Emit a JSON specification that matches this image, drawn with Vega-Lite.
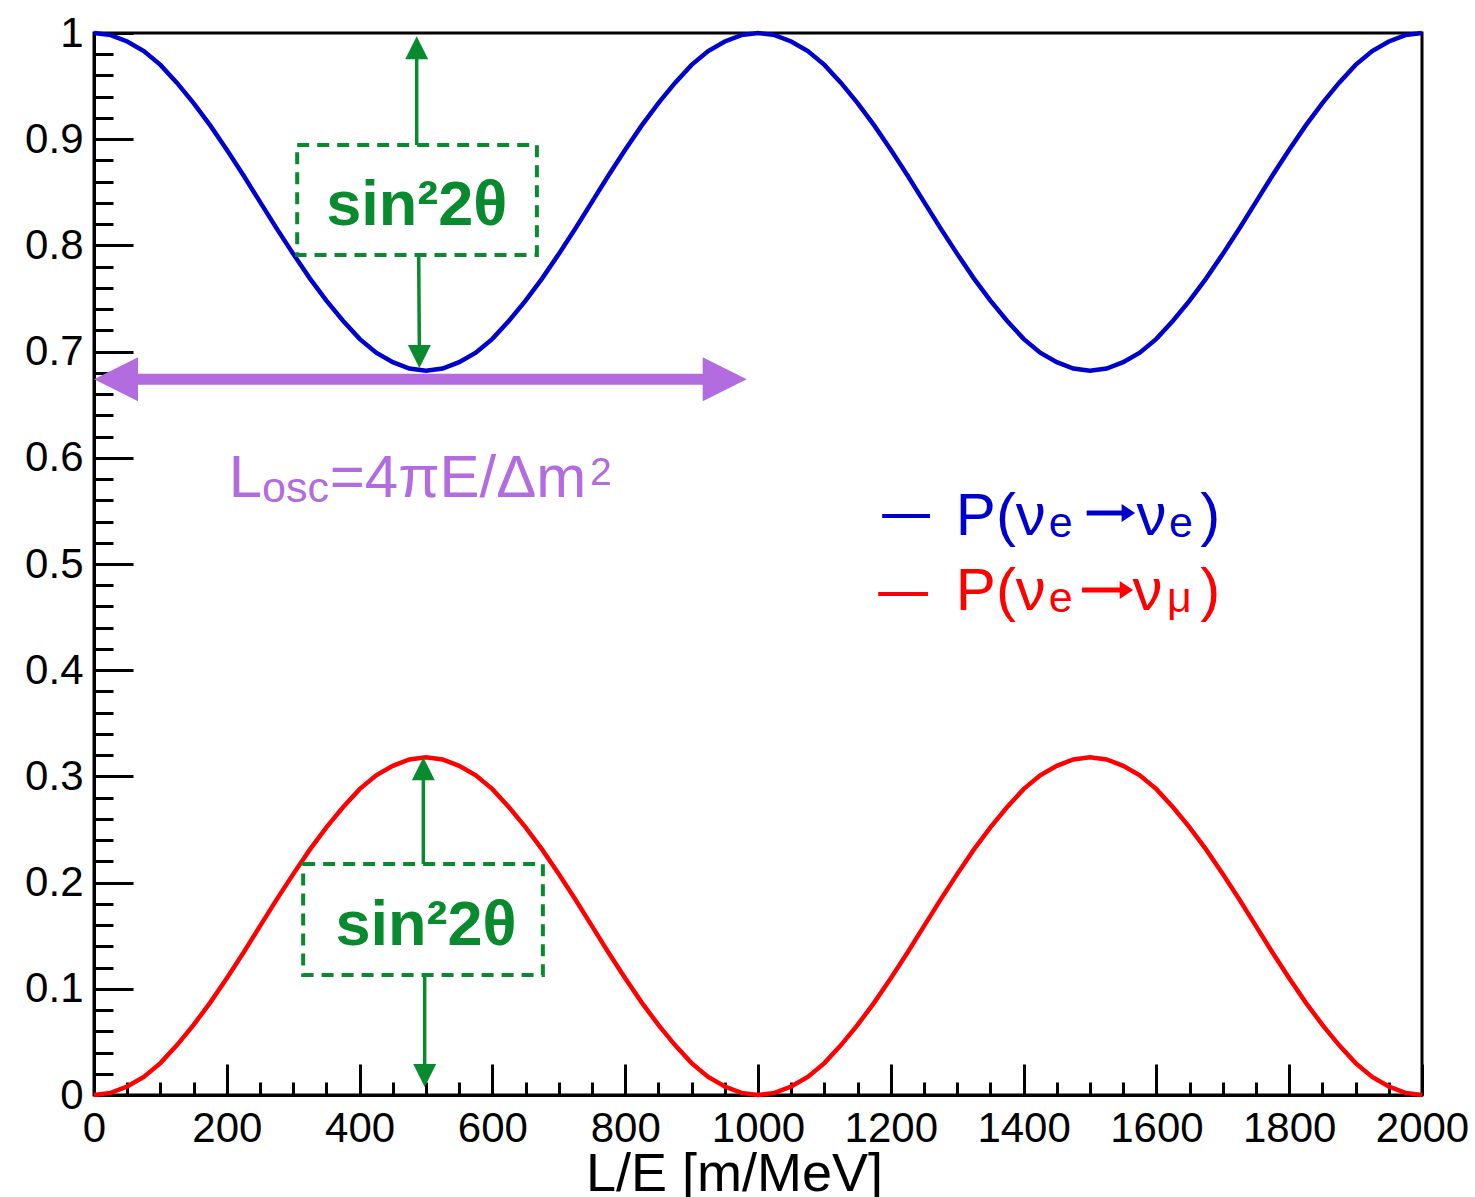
{
  "$schema": "https://vega.github.io/schema/vega-lite/v6.json",
  "width": 1328,
  "height": 1062,
  "autosize": {"type": "none"},
  "padding": {"left": 94, "top": 33, "right": 53, "bottom": 102},
  "background": "white",
  "config": {
    "font": "Liberation Sans",
    "view": {"stroke": "black", "strokeWidth": 3},
    "axis": {"grid": false, "domainColor": "black", "domainWidth": 3, "tickColor": "black", "tickWidth": 3, "labelColor": "black", "labelFont": "Liberation Sans", "titleFont": "Liberation Sans", "titleColor": "black", "labelFlush": false, "labelOverlap": false}
  },
  "datasets": {
    "curves": [
      {"x":0,"s":"emu","p":0},{"x":25,"s":"emu","p":0.002},{"x":50,"s":"emu","p":0.008},{"x":75,"s":"emu","p":0.017},{"x":100,"s":"emu","p":0.030},{"x":125,"s":"emu","p":0.047},{"x":150,"s":"emu","p":0.066},{"x":175,"s":"emu","p":0.087},{"x":200,"s":"emu","p":0.110},{"x":225,"s":"emu","p":0.134},{"x":250,"s":"emu","p":0.159},{"x":275,"s":"emu","p":0.184},{"x":300,"s":"emu","p":0.208},{"x":325,"s":"emu","p":0.231},{"x":350,"s":"emu","p":0.252},{"x":375,"s":"emu","p":0.271},{"x":400,"s":"emu","p":0.288},{"x":425,"s":"emu","p":0.301},{"x":450,"s":"emu","p":0.310},{"x":475,"s":"emu","p":0.316},{"x":500,"s":"emu","p":0.318},
      {"x":525,"s":"emu","p":0.316},{"x":550,"s":"emu","p":0.310},{"x":575,"s":"emu","p":0.301},{"x":600,"s":"emu","p":0.288},{"x":625,"s":"emu","p":0.271},{"x":650,"s":"emu","p":0.252},{"x":675,"s":"emu","p":0.231},{"x":700,"s":"emu","p":0.208},{"x":725,"s":"emu","p":0.184},{"x":750,"s":"emu","p":0.159},{"x":775,"s":"emu","p":0.134},{"x":800,"s":"emu","p":0.110},{"x":825,"s":"emu","p":0.087},{"x":850,"s":"emu","p":0.066},{"x":875,"s":"emu","p":0.047},{"x":900,"s":"emu","p":0.030},{"x":925,"s":"emu","p":0.017},{"x":950,"s":"emu","p":0.008},{"x":975,"s":"emu","p":0.002},{"x":1000,"s":"emu","p":0},
      {"x":1025,"s":"emu","p":0.002},{"x":1050,"s":"emu","p":0.008},{"x":1075,"s":"emu","p":0.017},{"x":1100,"s":"emu","p":0.030},{"x":1125,"s":"emu","p":0.047},{"x":1150,"s":"emu","p":0.066},{"x":1175,"s":"emu","p":0.087},{"x":1200,"s":"emu","p":0.110},{"x":1225,"s":"emu","p":0.134},{"x":1250,"s":"emu","p":0.159},{"x":1275,"s":"emu","p":0.184},{"x":1300,"s":"emu","p":0.208},{"x":1325,"s":"emu","p":0.231},{"x":1350,"s":"emu","p":0.252},{"x":1375,"s":"emu","p":0.271},{"x":1400,"s":"emu","p":0.288},{"x":1425,"s":"emu","p":0.301},{"x":1450,"s":"emu","p":0.310},{"x":1475,"s":"emu","p":0.316},{"x":1500,"s":"emu","p":0.318},
      {"x":1525,"s":"emu","p":0.316},{"x":1550,"s":"emu","p":0.310},{"x":1575,"s":"emu","p":0.301},{"x":1600,"s":"emu","p":0.288},{"x":1625,"s":"emu","p":0.271},{"x":1650,"s":"emu","p":0.252},{"x":1675,"s":"emu","p":0.231},{"x":1700,"s":"emu","p":0.208},{"x":1725,"s":"emu","p":0.184},{"x":1750,"s":"emu","p":0.159},{"x":1775,"s":"emu","p":0.134},{"x":1800,"s":"emu","p":0.110},{"x":1825,"s":"emu","p":0.087},{"x":1850,"s":"emu","p":0.066},{"x":1875,"s":"emu","p":0.047},{"x":1900,"s":"emu","p":0.030},{"x":1925,"s":"emu","p":0.017},{"x":1950,"s":"emu","p":0.008},{"x":1975,"s":"emu","p":0.002},{"x":2000,"s":"emu","p":0},
      {"x":0,"s":"ee","p":1},{"x":25,"s":"ee","p":0.998},{"x":50,"s":"ee","p":0.992},{"x":75,"s":"ee","p":0.983},{"x":100,"s":"ee","p":0.970},{"x":125,"s":"ee","p":0.953},{"x":150,"s":"ee","p":0.934},{"x":175,"s":"ee","p":0.913},{"x":200,"s":"ee","p":0.890},{"x":225,"s":"ee","p":0.866},{"x":250,"s":"ee","p":0.841},{"x":275,"s":"ee","p":0.816},{"x":300,"s":"ee","p":0.792},{"x":325,"s":"ee","p":0.769},{"x":350,"s":"ee","p":0.748},{"x":375,"s":"ee","p":0.729},{"x":400,"s":"ee","p":0.712},{"x":425,"s":"ee","p":0.699},{"x":450,"s":"ee","p":0.690},{"x":475,"s":"ee","p":0.684},{"x":500,"s":"ee","p":0.682},
      {"x":525,"s":"ee","p":0.684},{"x":550,"s":"ee","p":0.690},{"x":575,"s":"ee","p":0.699},{"x":600,"s":"ee","p":0.712},{"x":625,"s":"ee","p":0.729},{"x":650,"s":"ee","p":0.748},{"x":675,"s":"ee","p":0.769},{"x":700,"s":"ee","p":0.792},{"x":725,"s":"ee","p":0.816},{"x":750,"s":"ee","p":0.841},{"x":775,"s":"ee","p":0.866},{"x":800,"s":"ee","p":0.890},{"x":825,"s":"ee","p":0.913},{"x":850,"s":"ee","p":0.934},{"x":875,"s":"ee","p":0.953},{"x":900,"s":"ee","p":0.970},{"x":925,"s":"ee","p":0.983},{"x":950,"s":"ee","p":0.992},{"x":975,"s":"ee","p":0.998},{"x":1000,"s":"ee","p":1},
      {"x":1025,"s":"ee","p":0.998},{"x":1050,"s":"ee","p":0.992},{"x":1075,"s":"ee","p":0.983},{"x":1100,"s":"ee","p":0.970},{"x":1125,"s":"ee","p":0.953},{"x":1150,"s":"ee","p":0.934},{"x":1175,"s":"ee","p":0.913},{"x":1200,"s":"ee","p":0.890},{"x":1225,"s":"ee","p":0.866},{"x":1250,"s":"ee","p":0.841},{"x":1275,"s":"ee","p":0.816},{"x":1300,"s":"ee","p":0.792},{"x":1325,"s":"ee","p":0.769},{"x":1350,"s":"ee","p":0.748},{"x":1375,"s":"ee","p":0.729},{"x":1400,"s":"ee","p":0.712},{"x":1425,"s":"ee","p":0.699},{"x":1450,"s":"ee","p":0.690},{"x":1475,"s":"ee","p":0.684},{"x":1500,"s":"ee","p":0.682},
      {"x":1525,"s":"ee","p":0.684},{"x":1550,"s":"ee","p":0.690},{"x":1575,"s":"ee","p":0.699},{"x":1600,"s":"ee","p":0.712},{"x":1625,"s":"ee","p":0.729},{"x":1650,"s":"ee","p":0.748},{"x":1675,"s":"ee","p":0.769},{"x":1700,"s":"ee","p":0.792},{"x":1725,"s":"ee","p":0.816},{"x":1750,"s":"ee","p":0.841},{"x":1775,"s":"ee","p":0.866},{"x":1800,"s":"ee","p":0.890},{"x":1825,"s":"ee","p":0.913},{"x":1850,"s":"ee","p":0.934},{"x":1875,"s":"ee","p":0.953},{"x":1900,"s":"ee","p":0.970},{"x":1925,"s":"ee","p":0.983},{"x":1950,"s":"ee","p":0.992},{"x":1975,"s":"ee","p":0.998},{"x":2000,"s":"ee","p":1}
    ],
    "legendLines": [
      {"s":"ee","x":1187,"x2":1259,"y":0.5452},
      {"s":"emu","x":1181,"x2":1256,"y":0.4718}
    ],
    "legendArrows": [
      {"s":"ee","x":1495,"x2":1555,"y":0.548},
      {"s":"emu","x":1488,"x2":1552,"y":0.4755}
    ],
    "legendHeads": [
      {"s":"ee","x":1568,"y":0.548,"dir":"small"},
      {"s":"emu","x":1565,"y":0.4755,"dir":"small"}
    ],
    "mainText": [
      {"s":"ee","x":1298,"y":0.5273,"t":"P(ν"},
      {"s":"ee","x":1570,"y":0.5273,"t":"ν"},
      {"s":"ee","x":1666,"y":0.5273,"t":")"},
      {"s":"emu","x":1298,"y":0.4567,"t":"P(ν"},
      {"s":"emu","x":1564,"y":0.4567,"t":"ν"},
      {"s":"emu","x":1666,"y":0.4567,"t":")"},
      {"s":"purple","x":203,"y":0.563,"t":"L"},
      {"s":"purple","x":355,"y":0.563,"t":"=4πE/Δm"}
    ],
    "subText": [
      {"s":"ee","x":1438,"y":0.5254,"t":"e"},
      {"s":"ee","x":1619,"y":0.5254,"t":"e"},
      {"s":"emu","x":1438,"y":0.4548,"t":"e"},
      {"s":"emu","x":1616,"y":0.4548,"t":"μ"},
      {"s":"purple","x":253,"y":0.5584,"t":"osc"}
    ],
    "supText": [
      {"s":"purple","x":747,"y":0.5744,"t":"2"}
    ],
    "boldText": [
      {"s":"green","x":486,"y":0.819,"t":"sin²2θ"},
      {"s":"green","x":500,"y":0.1412,"t":"sin²2θ"}
    ],
    "boxes": [
      {"x":306,"x2":667,"y":0.8945,"y2":0.791},
      {"x":315,"x2":676,"y":0.2175,"y2":0.113}
    ],
    "shafts": [
      {"s":"green","x":486,"x2":486,"y":0.8945,"y2":0.98},
      {"s":"green","x":489,"x2":490,"y":0.791,"y2":0.70},
      {"s":"green","x":496,"x2":496,"y":0.2175,"y2":0.30},
      {"s":"green","x":498,"x2":498,"y":0.113,"y2":0.025}
    ],
    "greenHeads": [
      {"s":"green","x":486,"y":0.997,"dir":"up"},
      {"s":"green","x":490,"y":0.6846,"dir":"down"},
      {"s":"green","x":496,"y":0.318,"dir":"up"},
      {"s":"green","x":498,"y":0.0075,"dir":"down"}
    ],
    "purpleShaft": [
      {"s":"purple","x":60,"x2":925,"y":0.674}
    ],
    "purpleHeads": [
      {"s":"purple","x":0,"y":0.674,"dir":"left"},
      {"s":"purple","x":983,"y":0.674,"dir":"right"}
    ]
  },
  "resolve": {"axis": {"x": "independent", "y": "independent"}},
  "layer": [
    {
      "data": {"name": "boxes"},
      "mark": {"type": "point", "opacity": 0},
      "encoding": {
        "x": {"field": "x", "type": "quantitative", "scale": {"domain": [0, 2000], "nice": false, "zero": false},
          "axis": {"orient": "bottom", "values": [0,50,100,150,200,250,300,350,400,450,500,550,600,650,700,750,800,850,900,950,1000,1050,1100,1150,1200,1250,1300,1350,1400,1450,1500,1550,1600,1650,1700,1750,1800,1850,1900,1950,2000], "tickSize": -13, "labels": false, "domain": false, "title": null}},
        "y": {"field": "y", "type": "quantitative", "scale": {"domain": [0, 1], "nice": false, "zero": false},
          "axis": {"orient": "left", "values": [0,0.02,0.04,0.06,0.08,0.1,0.12,0.14,0.16,0.18,0.2,0.22,0.24,0.26,0.28,0.3,0.32,0.34,0.36,0.38,0.4,0.42,0.44,0.46,0.48,0.5,0.52,0.54,0.56,0.58,0.6,0.62,0.64,0.66,0.68,0.7,0.72,0.74,0.76,0.78,0.8,0.82,0.84,0.86,0.88,0.9,0.92,0.94,0.96,0.98,1], "tickSize": -19, "labels": false, "domain": false, "title": null}}
      }
    },
    {
      "data": {"name": "curves"},
      "mark": {"type": "line", "strokeWidth": 4.5},
      "encoding": {
        "x": {"field": "x", "type": "quantitative",
          "axis": {"orient": "bottom", "values": [0,200,400,600,800,1000,1200,1400,1600,1800,2000], "format": "d", "tickSize": -31, "labelPadding": 44, "labelFontSize": 42, "labelBaseline": "top",
            "title": "L/E [m/MeV]", "titleFontSize": 54, "titleFontWeight": "normal", "titleX": 640, "titleY": 95, "titleBaseline": "alphabetic", "titleAlign": "center", "titleAnchor": null}},
        "y": {"field": "p", "type": "quantitative",
          "axis": {"orient": "left", "values": [0,0.1,0.2,0.3,0.4,0.5,0.6,0.7,0.8,0.9,1], "format": "~g", "tickSize": -39, "labelPadding": 50, "labelFontSize": 42, "title": null}},
        "color": {"field": "s", "type": "nominal", "legend": null,
          "scale": {"domain": ["ee", "emu", "green", "purple"], "range": ["#0000cc", "#ff0000", "#0a8a2e", "#b36be0"]}}
      }
    },
    {
      "data": {"name": "legendLines"},
      "mark": {"type": "rule", "strokeWidth": 4},
      "encoding": {
        "x": {"field": "x", "type": "quantitative", "axis": null},
        "x2": {"field": "x2"},
        "y": {"field": "y", "type": "quantitative", "axis": null},
        "color": {"field": "s", "type": "nominal", "legend": null}
      }
    },
    {
      "data": {"name": "legendArrows"},
      "mark": {"type": "rule", "strokeWidth": 5},
      "encoding": {
        "x": {"field": "x", "type": "quantitative", "axis": null},
        "x2": {"field": "x2"},
        "y": {"field": "y", "type": "quantitative", "axis": null},
        "color": {"field": "s", "type": "nominal", "legend": null}
      }
    },
    {
      "data": {"name": "legendHeads"},
      "mark": {"type": "point", "filled": true, "opacity": 1, "size": 324, "strokeWidth": 0},
      "encoding": {
        "x": {"field": "x", "type": "quantitative", "axis": null},
        "y": {"field": "y", "type": "quantitative", "axis": null},
        "shape": {"field": "dir", "type": "nominal", "legend": null},
        "color": {"field": "s", "type": "nominal", "legend": null}
      }
    },
    {
      "data": {"name": "mainText"},
      "mark": {"type": "text", "fontSize": 60, "align": "left", "baseline": "alphabetic", "font": "Liberation Sans"},
      "encoding": {
        "x": {"field": "x", "type": "quantitative", "axis": null},
        "y": {"field": "y", "type": "quantitative", "axis": null},
        "text": {"field": "t"},
        "color": {"field": "s", "type": "nominal", "legend": null}
      }
    },
    {
      "data": {"name": "subText"},
      "mark": {"type": "text", "fontSize": 43, "align": "left", "baseline": "alphabetic", "font": "Liberation Sans"},
      "encoding": {
        "x": {"field": "x", "type": "quantitative", "axis": null},
        "y": {"field": "y", "type": "quantitative", "axis": null},
        "text": {"field": "t"},
        "color": {"field": "s", "type": "nominal", "legend": null}
      }
    },
    {
      "data": {"name": "supText"},
      "mark": {"type": "text", "fontSize": 39, "align": "left", "baseline": "alphabetic", "font": "Liberation Sans"},
      "encoding": {
        "x": {"field": "x", "type": "quantitative", "axis": null},
        "y": {"field": "y", "type": "quantitative", "axis": null},
        "text": {"field": "t"},
        "color": {"field": "s", "type": "nominal", "legend": null}
      }
    },
    {
      "data": {"name": "boldText"},
      "mark": {"type": "text", "fontSize": 63, "fontWeight": "bold", "align": "center", "baseline": "alphabetic", "font": "Liberation Sans"},
      "encoding": {
        "x": {"field": "x", "type": "quantitative", "axis": null},
        "y": {"field": "y", "type": "quantitative", "axis": null},
        "text": {"field": "t"},
        "color": {"field": "s", "type": "nominal", "legend": null}
      }
    },
    {
      "data": {"name": "boxes"},
      "mark": {"type": "rect", "filled": false, "stroke": "#0a8a2e", "strokeWidth": 4, "strokeDash": [12, 8]},
      "encoding": {
        "x": {"field": "x", "type": "quantitative", "axis": null},
        "x2": {"field": "x2"},
        "y": {"field": "y", "type": "quantitative", "axis": null},
        "y2": {"field": "y2"}
      }
    },
    {
      "data": {"name": "shafts"},
      "mark": {"type": "rule", "strokeWidth": 3.5},
      "encoding": {
        "x": {"field": "x", "type": "quantitative", "axis": null},
        "x2": {"field": "x2"},
        "y": {"field": "y", "type": "quantitative", "axis": null},
        "y2": {"field": "y2"},
        "color": {"field": "s", "type": "nominal", "legend": null}
      }
    },
    {
      "data": {"name": "greenHeads"},
      "mark": {"type": "point", "filled": true, "opacity": 1, "size": 529, "strokeWidth": 0},
      "encoding": {
        "x": {"field": "x", "type": "quantitative", "axis": null},
        "y": {"field": "y", "type": "quantitative", "axis": null},
        "shape": {"field": "dir", "type": "nominal", "legend": null,
          "scale": {"domain": ["up", "down", "left", "right", "small"], "range": ["M0,0L1,2L-1,2Z", "M0,0L1,-2L-1,-2Z", "M0,0L2,-1L2,1Z", "M0,0L-2,-1L-2,1Z", "M0,0L-1.5,-1L-1.5,1Z"]}},
        "color": {"field": "s", "type": "nominal", "legend": null}
      }
    },
    {
      "data": {"name": "purpleShaft"},
      "mark": {"type": "rule", "strokeWidth": 11},
      "encoding": {
        "x": {"field": "x", "type": "quantitative", "axis": null},
        "x2": {"field": "x2"},
        "y": {"field": "y", "type": "quantitative", "axis": null},
        "color": {"field": "s", "type": "nominal", "legend": null}
      }
    },
    {
      "data": {"name": "purpleHeads"},
      "mark": {"type": "point", "filled": true, "opacity": 1, "size": 1936, "strokeWidth": 0},
      "encoding": {
        "x": {"field": "x", "type": "quantitative", "axis": null},
        "y": {"field": "y", "type": "quantitative", "axis": null},
        "shape": {"field": "dir", "type": "nominal", "legend": null},
        "color": {"field": "s", "type": "nominal", "legend": null}
      }
    }
  ]
}
